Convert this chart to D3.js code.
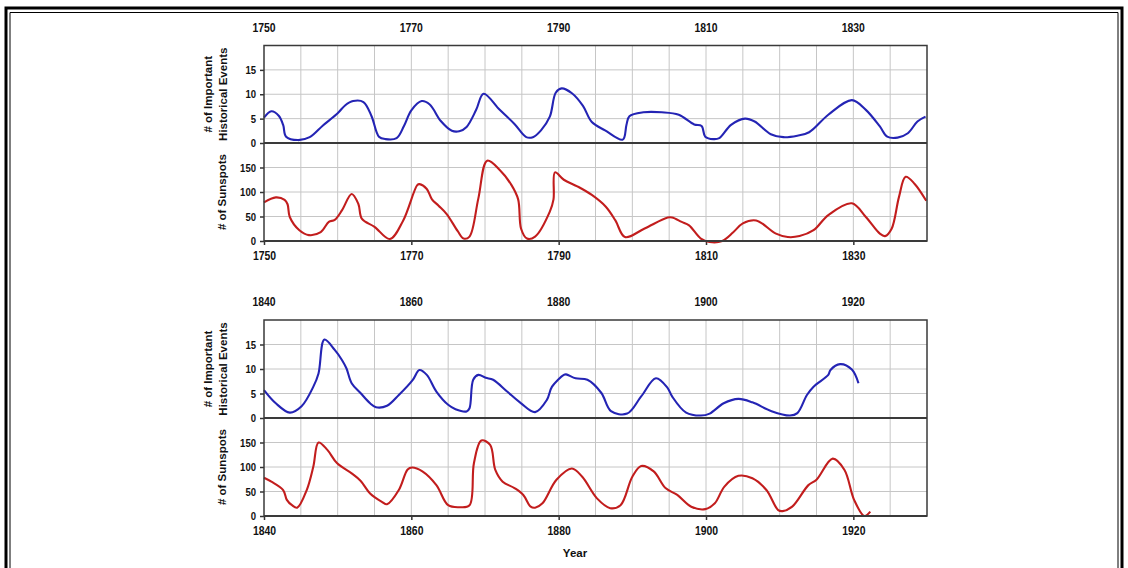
<!DOCTYPE html>
<html>
<head>
<meta charset="utf-8">
<script src="https://cdn.jsdelivr.net/npm/d3@7"></script>
<style>
    body { margin: 0; background: #fff; }
    .tick_year { font-family: "Liberation Sans", Arial, sans-serif; font-weight: bold; font-size: 12.5px; }
    .tick_val { font-family: "Liberation Sans", Arial, sans-serif; font-weight: bold; font-size: 11.5px; }
    .axis_title { font-family: "Liberation Sans", Arial, sans-serif; font-weight: bold; font-size: 11.5px; }
</style>
</head>
<body>
<div id="chart"></div>
<script>
// values
const events1Years = [1750, 1751, 1752, 1752.6, 1753, 1754.6, 1756.2, 1758, 1760, 1761, 1762.1, 1763.5, 1764.6, 1765.6, 1766.5, 1768, 1769, 1770, 1771.4, 1772.5, 1774, 1775.5, 1776.5, 1777.5, 1778.8, 1779.8, 1782, 1784, 1785.6, 1786.5, 1787.6, 1788.8, 1789.6, 1790.4, 1791.8, 1793.3, 1794.5, 1796.3, 1798.7, 1799.2, 1799.6, 1801.5, 1804, 1806.3, 1808.4, 1809.4, 1809.9, 1811, 1811.8, 1813.4, 1815.3, 1816.6, 1818.8, 1820.5, 1822.4, 1824, 1826.6, 1829.8, 1831.7, 1833.6, 1834.6, 1836, 1837.4, 1838.7, 1839.8];
const events1Values = [5.2, 6.5, 5.6, 3.7, 1.3, 0.6, 1.2, 3.6, 6.1, 7.7, 8.6, 8.4, 5.5, 1.3, 0.8, 1.0, 3.5, 6.7, 8.6, 7.9, 4.5, 2.5, 2.4, 3.3, 6.8, 10.1, 6.8, 3.9, 1.2, 1.2, 2.6, 5.4, 10.3, 11.2, 10.2, 7.6, 4.3, 2.6, 0.7, 3.7, 5.5, 6.3, 6.3, 5.8, 3.8, 3.5, 1.3, 0.8, 1.0, 3.7, 5.0, 4.4, 1.8, 1.2, 1.5, 2.2, 5.8, 8.8, 6.8, 3.4, 1.3, 1.1, 2.0, 4.4, 5.4];

const sunspots1Years = [1750, 1751.6, 1752.8, 1753.2, 1753.5, 1754.8, 1756.1, 1757.7, 1758.8, 1759.6, 1760.6, 1761.9, 1762.8, 1763.3, 1765, 1767.1, 1768.9, 1770.8, 1771.1, 1772.1, 1772.8, 1773.7, 1774.8, 1776.3, 1777.1, 1777.9, 1779.1, 1780.3, 1782, 1783.6, 1784.5, 1784.9, 1785.7, 1786.8, 1788.8, 1789.3, 1789.5, 1790.7, 1792.6, 1794.5, 1796.4, 1797.7, 1799, 1801.6, 1804.8, 1805.4, 1806.7, 1807.7, 1809.3, 1810.5, 1812.2, 1813.7, 1815, 1816.8, 1819.5, 1821.1, 1822.7, 1824.6, 1826.6, 1829.8, 1831.7, 1833.6, 1834.3, 1835.2, 1836.2, 1837.1, 1838.3, 1839.9];
const sunspots1Values = [79, 89, 84, 75, 49, 22, 12, 18, 39, 43, 63, 96, 76, 45, 29, 4, 42, 114, 116, 106, 85, 72, 55, 20, 5, 9, 87, 164, 145, 114, 85, 25, 5, 9, 60, 85, 140, 125, 111, 94, 70, 42, 8, 25, 48, 48, 39, 32, 5, -2, 0, 18, 36, 42, 15, 8, 10, 22, 53, 77, 49, 15, 10, 25, 90, 131, 117, 82];

const events2Years = [1840, 1841.6, 1843.5, 1845.1, 1846.7, 1847.4, 1848.2, 1849.6, 1850.6, 1851.2, 1851.9, 1853.1, 1854.4, 1855.2, 1856.7, 1858.3, 1860.2, 1861.1, 1862.1, 1863.4, 1865, 1866, 1867.5, 1867.9, 1868.4, 1869.1, 1870.1, 1871.1, 1873, 1874.9, 1876.8, 1878.4, 1879.1, 1880.7, 1881, 1882.3, 1883.9, 1885.8, 1887.1, 1889.3, 1891.2, 1893.2, 1894.8, 1895.4, 1897.3, 1899.3, 1900.5, 1902.4, 1904.4, 1906.3, 1908.9, 1911.4, 1912.4, 1913.7, 1914.6, 1916.6, 1916.9, 1918.2, 1919.8, 1920.7];
const events2Values = [5.7, 3.0, 1.1, 2.4, 6.4, 9.1, 16.0, 13.9, 11.8, 10.1, 7.1, 5.1, 3.0, 2.2, 2.5, 4.7, 7.8, 9.8, 8.8, 5.4, 2.7, 1.8, 1.35, 2.0, 7.8, 8.8, 8.2, 7.8, 5.4, 3.0, 1.2, 3.7, 6.4, 8.8, 8.9, 8.1, 7.8, 5.1, 1.4, 0.9, 4.4, 8.1, 6.1, 4.4, 1.1, 0.5, 0.9, 3.0, 3.9, 3.2, 1.4, 0.5, 1.0, 4.7, 6.4, 8.8, 9.8, 11.0, 9.9, 7.1];

const sunspots2Years = [1840, 1841, 1842.6, 1843.1, 1843.8, 1844.5, 1845.8, 1846.7, 1847.4, 1848.6, 1849.9, 1851.9, 1853.1, 1854.4, 1856, 1856.7, 1858.3, 1859.5, 1860.1, 1861.5, 1863.4, 1865, 1866.6, 1867.9, 1868.5, 1869.5, 1870.7, 1871.4, 1872.4, 1874, 1875.2, 1876.2, 1876.8, 1877.8, 1879.7, 1881.8, 1883.2, 1885.2, 1887, 1888.4, 1890, 1891.2, 1892.9, 1894.5, 1896.1, 1898, 1899.9, 1901.2, 1902.5, 1904.4, 1906.3, 1908.2, 1909.8, 1910.4, 1911.7, 1913.9, 1915, 1917.2, 1918.8, 1920.1, 1921.5, 1922.3];
const sunspots2Values = [78, 70, 53, 33, 22, 17, 53, 101, 150, 135, 108, 87, 72, 46, 29, 24, 53, 95, 99, 91, 63, 22, 18, 22, 108, 154, 145, 94, 70, 57, 43, 19, 17, 26, 74, 97, 80, 36, 16, 22, 80, 102, 91, 57, 43, 19, 14, 26, 60, 82, 77, 53, 12, 10, 19, 63, 74, 117, 94, 33, 0, 9];

const eventTicks = [0, 5, 10, 15];
const sunspotTicks = [0, 50, 100, 150];
const yearTicks1 = [1750, 1770, 1790, 1810, 1830];
const yearTicks2 = [1840, 1860, 1880, 1900, 1920];

// squeeze bold digits to look like a narrow face
function narrow(sel, perChar) {
    sel.attr("textLength", function () { return this.textContent.length * perChar; })
        .attr("lengthAdjust", "spacingAndGlyphs");
}

class SunspotPanel {
    constructor(svg, opts) {
        this.svg = svg;
        Object.assign(this, opts);
        this.init_scale();
        this.draw_grid();
        this.draw_axes();
        this.draw_line(this.eventsYears, this.eventsValues, this.yEv, "#2424b4");
        this.draw_line(this.spotsYears, this.spotsValues, this.ySp, "#c21d1d");
        this.draw_frame();
    }
    init_scale() {
        this.x = d3.scaleLinear().domain([this.start, this.start + 90]).range([this.left, this.right]);
        this.yEv = d3.scaleLinear().domain([0, 20]).range([this.mid, this.top]);
        this.ySp = d3.scaleLinear().domain([0, 200]).range([this.bottom, this.mid]);
    }
    draw_grid() {
        const g = this.svg.append("g").attr("stroke", "#c6c6c6").attr("stroke-width", 1);
        const yrs = d3.range(this.start + 5, this.start + 90, 5);
        g.selectAll(".vg").data(yrs).join("line")
            .attr("x1", d => this.x(d)).attr("x2", d => this.x(d))
            .attr("y1", this.top).attr("y2", this.bottom);
        g.selectAll(".he").data(eventTicks.slice(1)).join("line").attr("class", "he")
            .attr("x1", this.left).attr("x2", this.right)
            .attr("y1", d => this.yEv(d)).attr("y2", d => this.yEv(d));
        g.selectAll(".hs").data(sunspotTicks.slice(1)).join("line").attr("class", "hs")
            .attr("x1", this.left).attr("x2", this.right)
            .attr("y1", d => this.ySp(d)).attr("y2", d => this.ySp(d));
    }
    draw_axes() {
        const axE = this.svg.append("g").attr("transform", `translate(${this.left},0)`)
            .call(d3.axisLeft(this.yEv).tickValues(eventTicks).tickSize(4).tickPadding(4));
        const axS = this.svg.append("g").attr("transform", `translate(${this.left},0)`)
            .call(d3.axisLeft(this.ySp).tickValues(sunspotTicks).tickSize(4).tickPadding(4));
        [axE, axS].forEach(a => {
            a.select(".domain").remove();
            a.selectAll("line").attr("stroke", "#333").attr("stroke-width", 1.5);
            a.selectAll("text").attr("class", "tick_val").attr("fill", "#111").attr("font-family", null).attr("font-size", null)
                .call(narrow, 5.3);
        });
        // year labels below
        const axB = this.svg.append("g").attr("transform", `translate(0,${this.bottom})`)
            .call(d3.axisBottom(this.x).tickValues(this.yearTicks).tickFormat(d3.format("d")).tickSize(4).tickPadding(6));
        axB.select(".domain").remove();
        axB.selectAll("line").attr("stroke", "#333").attr("stroke-width", 1.5);
        axB.selectAll("text").attr("class", "tick_year").attr("fill", "#111").attr("font-family", null).attr("font-size", null)
            .call(narrow, 5.8);
        // year labels above, no ticks
        this.svg.append("g").selectAll("text").data(this.yearTicks).join("text")
            .attr("class", "tick_year").attr("fill", "#111")
            .attr("x", d => this.x(d)).attr("y", this.top - 14)
            .attr("text-anchor", "middle").text(d => d)
            .call(narrow, 5.8);
        // titles
        const evMid = (this.top + this.mid) / 2, spMid = (this.mid + this.bottom) / 2;
        const t = this.svg.append("text").attr("class", "axis_title").attr("fill", "#111")
            .attr("text-anchor", "middle")
            .attr("transform", `translate(${this.left - 52},${evMid}) rotate(-90)`);
        t.append("tspan").attr("x", 0).attr("dy", 0).text("# of Important");
        t.append("tspan").attr("x", 0).attr("dy", 14.5).text("Historical Events");
        this.svg.append("text").attr("class", "axis_title").attr("fill", "#111")
            .attr("text-anchor", "middle")
            .attr("transform", `translate(${this.left - 38},${spMid}) rotate(-90)`)
            .text("# of Sunspots");
    }
    draw_line(years, values, y, color) {
        const pts = years.map((d, i) => [d, values[i]]);
        const line = d3.line()
            .x(d => this.x(d[0]))
            .y(d => y(d[1]))
            .curve(d3.curveCatmullRom.alpha(0.5));
        this.svg.append("path").datum(pts)
            .attr("d", line)
            .attr("fill", "none")
            .attr("stroke", color)
            .attr("stroke-width", 2.1)
            .attr("stroke-linejoin", "round");
    }
    draw_frame() {
        this.svg.append("rect")
            .attr("x", this.left).attr("y", this.top)
            .attr("width", this.right - this.left).attr("height", this.bottom - this.top)
            .attr("fill", "none").attr("stroke", "#3a3a3a").attr("stroke-width", 1.5);
        this.svg.append("line")
            .attr("x1", this.left).attr("x2", this.right)
            .attr("y1", this.mid).attr("y2", this.mid)
            .attr("stroke", "#3a3a3a").attr("stroke-width", 2);
        this.svg.append("line")
            .attr("x1", this.left).attr("x2", this.right)
            .attr("y1", this.bottom).attr("y2", this.bottom)
            .attr("stroke", "#3a3a3a").attr("stroke-width", 2);
    }
}

const svg = d3.select("#chart").append("svg")
    .attr("width", 1128).attr("height", 568);

// outer double border (open at bottom, picture is cropped)
const border = svg.append("g").attr("fill", "none").attr("stroke", "#000");
border.append("path").attr("d", "M6,568 V8 H1122 V568").attr("stroke-width", 3);
border.append("path").attr("d", "M10,568 V12.5 H1118 V568").attr("stroke-width", 1);

new SunspotPanel(svg, {
    start: 1750, left: 264, right: 927, top: 45.5, mid: 143, bottom: 241,
    yearTicks: yearTicks1,
    eventsYears: events1Years, eventsValues: events1Values,
    spotsYears: sunspots1Years, spotsValues: sunspots1Values
});
new SunspotPanel(svg, {
    start: 1840, left: 264, right: 927, top: 320, mid: 418, bottom: 516,
    yearTicks: yearTicks2,
    eventsYears: events2Years, eventsValues: events2Values,
    spotsYears: sunspots2Years, spotsValues: sunspots2Values
});

svg.append("text").attr("class", "axis_title").attr("fill", "#111")
    .attr("x", 575).attr("y", 557).attr("text-anchor", "middle").text("Year");
</script>
</body>
</html>
